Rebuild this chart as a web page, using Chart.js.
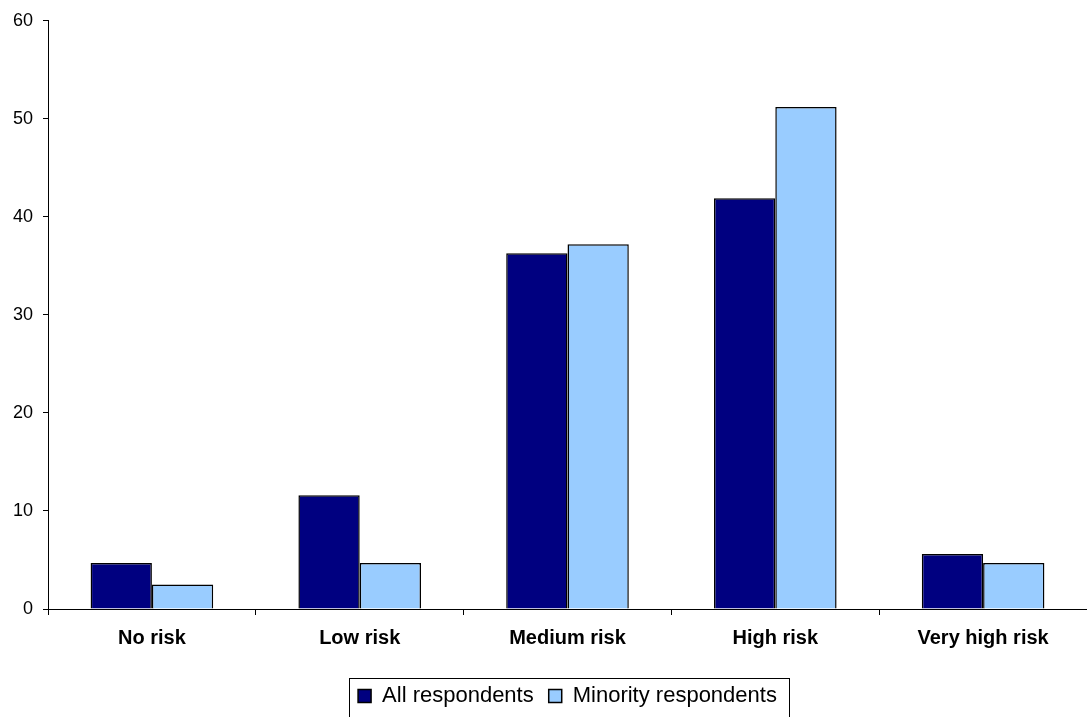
<!DOCTYPE html>
<html>
<head>
<meta charset="utf-8">
<script src="https://cdn.jsdelivr.net/npm/chart.js@4"></script>
<style>
  html, body { margin: 0; padding: 0; background: #fff; }
  #wrap { width: 1087px; height: 717px; }
</style>
</head>
<body>
<div id="wrap"><canvas id="riskChart" width="1087" height="717"></canvas></div>
<script>
// Perceived risk, share of respondents (%)
const categories = ['No risk', 'Low risk', 'Medium risk', 'High risk', 'Very high risk'];
const allRespondents = [4.7, 11.6, 36.3, 41.9, 5.6];
const minorityRespondents = [2.5, 4.7, 37.2, 51.2, 4.7];
const yTicks = [0, 10, 20, 30, 40, 50, 60];

const colors = {
    all: '#000080',
    minority: '#99ccff',
    edge: '#000000',
    text: '#000000'
};

// draws the thin frame round the legend entries
const legendFrame = {
    id: 'legendFrame',
    afterDraw(chart) {
        const boxes = chart.legend && chart.legend.legendHitBoxes;
        if (!boxes || !boxes.length) return;
        const first = boxes[0];
        const last = boxes[boxes.length - 1];
        const ctx = chart.ctx;
        ctx.save();
        ctx.strokeStyle = '#000';
        ctx.lineWidth = 1;
        const left = Math.round(first.left - 9) + 0.5;
        const right = Math.round(last.left + last.width + 12) + 0.5;
        const top = Math.round(first.top - 7) + 0.5;
        ctx.strokeRect(left, top, right - left, 60);
        ctx.restore();
    }
};

new Chart(document.getElementById('riskChart'), {
    type: 'bar',
    data: {
        labels: categories,
        datasets: [
            {
                label: 'All respondents',
                data: allRespondents,
                backgroundColor: colors.all,
                borderColor: colors.edge,
                borderWidth: 1.5
            },
            {
                label: 'Minority respondents',
                data: minorityRespondents,
                backgroundColor: colors.minority,
                borderColor: colors.edge,
                borderWidth: 1.5
            }
        ]
    },
    options: {
        responsive: false,
        animation: false,
        devicePixelRatio: 1,
        datasets: {
            bar: { categoryPercentage: 0.59, barPercentage: 1.0 }
        },
        layout: { padding: { top: 18, right: 0, left: 0, bottom: 0 } },
        plugins: {
            legend: {
                position: 'bottom',
                fullSize: false,   // centre under the plot area, not the canvas
                labels: {
                    color: colors.text,
                    font: { family: 'Liberation Sans, Arial, sans-serif', size: 22 },
                    boxWidth: 13,
                    boxHeight: 13,
                    padding: 15,
                    useBorderRadius: false
                }
            },
            tooltip: { enabled: false }
        },
        scales: {
            x: {
                afterFit: (scale) => { scale.height = 61; },
                grid: {
                    display: true,
                    offset: true,
                    drawOnChartArea: false,
                    drawTicks: true,
                    tickLength: 6,
                    color: '#000'
                },
                border: { display: true, color: '#000', width: 1 },
                ticks: {
                    color: colors.text,
                    padding: 11,
                    maxRotation: 0,
                    font: { family: 'Liberation Sans, Arial, sans-serif', size: 20, weight: 'bold' }
                }
            },
            y: {
                min: 0,
                max: 60,
                afterFit: (scale) => { scale.width = 48; },
                afterBuildTicks: (scale) => { scale.ticks = yTicks.map(v => ({ value: v })); },
                grid: {
                    display: true,
                    drawOnChartArea: false,
                    drawTicks: true,
                    tickLength: 5,
                    color: '#000'
                },
                border: { display: true, color: '#000', width: 1 },
                ticks: {
                    color: colors.text,
                    padding: 10,
                    font: { family: 'Liberation Sans, Arial, sans-serif', size: 18 }
                }
            }
        }
    },
    plugins: [legendFrame]
});
</script>
</body>
</html>
